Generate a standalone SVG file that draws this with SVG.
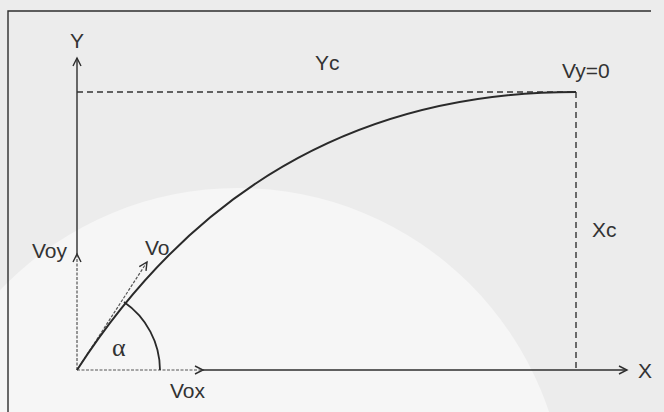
<svg xmlns="http://www.w3.org/2000/svg" width="664" height="412" viewBox="0 0 664 412">
  <defs>
    <style>
      .lbl { font-family: "Liberation Sans", Arial, sans-serif; font-size: 21px; fill: #333; }
      .greek { font-family: "Liberation Serif", "Times New Roman", serif; font-size: 26px; fill: #333; }
      .ln { stroke: #2e2e2e; stroke-width: 1.4; fill: none; }
      .dash { stroke: #333; stroke-width: 1.4; fill: none; stroke-dasharray: 6 4; }
      .dot { stroke: #555; stroke-width: 1.2; fill: none; stroke-dasharray: 3 1.5; }
    </style>
    <marker id="arr" markerUnits="userSpaceOnUse" markerWidth="12" markerHeight="12" refX="9" refY="5" orient="auto">
      <path d="M1,1 L9,5 L1,9" fill="none" stroke="#2e2e2e" stroke-width="1.4"/>
    </marker>
  </defs>

  <!-- background with faint lighter disc of the scanned page -->
  <g id="background">
    <rect x="0" y="0" width="664" height="412" fill="#ececec"/>
    <circle cx="238" cy="516" r="328" fill="#f6f6f6"/>
  </g>

  <g id="frame">
    <path d="M8,412 L8,11 L651,11" class="ln" stroke-width="1.2"/>
  </g>

  <g id="connectors">
    <!-- Y axis -->
    <line x1="77" y1="370" x2="77" y2="254" class="dot" marker-end="url(#arr)"/>
    <line x1="77" y1="254" x2="77" y2="58" class="ln" marker-end="url(#arr)"/>
    <!-- X axis -->
    <line x1="77" y1="370" x2="203" y2="370" class="dot" marker-end="url(#arr)"/>
    <line x1="203" y1="370" x2="627" y2="370" class="ln" marker-end="url(#arr)"/>
    <!-- dashed guides -->
    <line x1="77" y1="92" x2="576" y2="92" class="dash"/>
    <line x1="576" y1="92" x2="576" y2="370" class="dash"/>
    <!-- Vo vector -->
    <line x1="77" y1="370" x2="147" y2="262" class="dot" marker-end="url(#arr)"/>
    <!-- trajectory -->
    <path d="M77,370 Q257,92 576,92" fill="none" stroke="#2a2a2a" stroke-width="2"/>
    <!-- angle arc -->
    <path d="M124,302 A83,83 0 0 1 160,370" fill="none" stroke="#2a2a2a" stroke-width="1.8"/>
  </g>

  <g id="labels">
    <text class="lbl" x="77" y="48" text-anchor="middle">Y</text>
    <text class="lbl" x="315" y="70">Yc</text>
    <text class="lbl" x="562" y="78">Vy=0</text>
    <text class="lbl" x="592" y="237">Xc</text>
    <text class="lbl" x="32" y="258">Voy</text>
    <text class="lbl" x="145" y="255">Vo</text>
    <text class="greek" x="112" y="356">α</text>
    <text class="lbl" x="170" y="398">Vox</text>
    <text class="lbl" x="638" y="378">X</text>
  </g>
</svg>
